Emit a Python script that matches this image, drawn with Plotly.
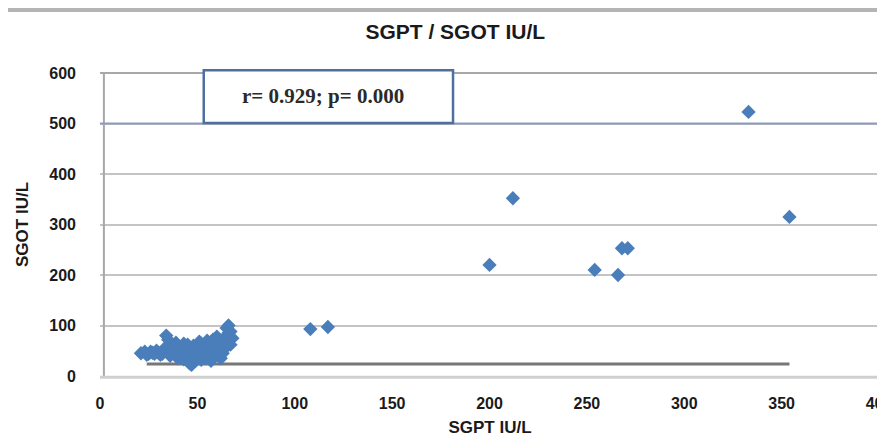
import plotly.graph_objects as go

# Cluster of normal values (SGPT, SGOT) and high outliers
sgpt = [21, 24, 26, 28, 30, 31, 33, 34, 35, 36, 37, 38, 39, 40, 41, 42, 43, 44, 45, 46,
        46, 47, 48, 49, 50, 51, 52, 53, 54, 55, 56, 57, 58, 59, 60, 61, 62, 63, 64, 65,
        66, 67, 66, 64, 62, 60, 58, 55, 52, 50, 48, 45, 43, 41, 39, 37, 35, 33, 32, 29,
        27, 25, 23, 44, 47, 49, 53, 56, 59, 61, 63, 65, 67, 68, 66, 54, 51, 42, 40, 38,
        36, 57, 62, 45, 49, 47, 52, 43,
        108, 117, 200, 212, 254, 266, 268, 271, 333, 354]
sgot = [45, 42, 48, 44, 46, 42, 50, 80, 72, 62, 55, 50, 42, 35, 48, 58, 64, 40, 52, 30,
        25, 45, 60, 38, 50, 68, 42, 55, 35, 62, 48, 66, 40, 55, 72, 50, 60, 45, 76, 95,
        100, 88, 70, 65, 56, 78, 72, 70, 64, 60, 52, 62, 57, 40, 66, 50, 58, 54, 44, 50,
        46, 44, 48, 48, 37, 30, 45, 36, 46, 40, 52, 58, 62, 75, 85, 58, 46, 45, 55, 48,
        40, 30, 35, 36, 58, 22, 32, 33,
        93, 97, 220, 352, 210, 200, 253, 253, 523, 315]

# Reference line drawn under the cluster
line_x = [24, 354]
line_y = [24, 24]

x_ticks = [0, 50, 100, 150, 200, 250, 300, 350, 400]
y_ticks = [0, 100, 200, 300, 400, 500, 600]

title_text = "SGPT / SGOT IU/L"
x_title = "SGPT IU/L"
y_title = "SGOT IU/L"
stat_text = "r= 0.929; p= 0.000"

font_sans = "Liberation Sans Narrow, Arial Narrow, Liberation Sans, Arial"
ink = "#1a1a1a"

fig = go.Figure()
fig.add_trace(go.Scatter(x=line_x, y=line_y, mode="lines",
                         line=dict(color="#777777", width=3), hoverinfo="skip",
                         showlegend=False))
fig.add_trace(go.Scatter(x=sgpt, y=sgot, mode="markers",
                         marker=dict(symbol="diamond", size=11, color="#4a7ebb",
                                     line=dict(width=0)),
                         showlegend=False))

fig.update_layout(
    width=877, height=433,
    margin=dict(l=92, r=5, t=65, b=65, autoexpand=False),
    paper_bgcolor="white", plot_bgcolor="white",
    title=dict(text=title_text, x=0.51, xanchor="center",
               y=0.945, yanchor="middle",
               font=dict(family=font_sans, size=21, color=ink, weight="bold")),
    xaxis=dict(range=[0, 400.5], tickvals=x_ticks, showgrid=False, zeroline=False,
               showline=False, ticks="", ticklabelstandoff=16,
               ticklabeloverflow="allow", automargin=False,
               tickfont=dict(family=font_sans, size=16, color=ink, weight="bold"),
               title=dict(text=x_title, standoff=10,
                          font=dict(family=font_sans, size=17, color=ink, weight="bold"))),
    yaxis=dict(range=[0, 600], tickvals=y_ticks, showgrid=True,
               gridcolor="#c4c4c4", gridwidth=2, zeroline=False,
               showline=False, ticks="", ticklabelstandoff=23, automargin=False,
               tickfont=dict(family=font_sans, size=16, color=ink, weight="bold"),
               title=dict(text=y_title, standoff=16,
                          font=dict(family=font_sans, size=17, color=ink, weight="bold"))),
    shapes=[
        # plot-area borders
        dict(type="line", xref="paper", yref="paper", x0=0.005, x1=0.005, y0=0, y1=1,
             line=dict(color="#a8a8a8", width=2)),
        dict(type="line", xref="paper", yref="paper", x0=0, x1=1.01, y0=1, y1=1,
             line=dict(color="#a8a8a8", width=2)),
        dict(type="line", xref="paper", yref="paper", x0=0, x1=1.01, y0=-0.004, y1=-0.004,
             line=dict(color="#d0d0d0", width=3)),
        # blue-tinted 500 gridline
        dict(type="line", xref="paper", yref="y", x0=0, x1=1.01, y0=500, y1=500,
             line=dict(color="#8c9cbd", width=2)),
        # top border of the page
        dict(type="line", xref="paper", yref="paper", x0=-0.2, x1=1.2, y0=1.208, y1=1.208,
             line=dict(color="#b4b4b4", width=4)),
        # statistics text box
        dict(type="rect", xref="paper", yref="paper", x0=0.133, x1=0.4526, y0=0.835, y1=1.009,
             fillcolor="white", line=dict(color="#4f6fa0", width=2.5)),
    ],
    annotations=[
        dict(text=stat_text, xref="paper", yref="paper",
             x=0.286, y=0.924, xanchor="center", yanchor="middle", showarrow=False,
             font=dict(family="Liberation Serif, Times New Roman, serif", size=21,
                       color="#2a2a2a", weight="bold")),
    ],
)

fig.write_html("out.html")
